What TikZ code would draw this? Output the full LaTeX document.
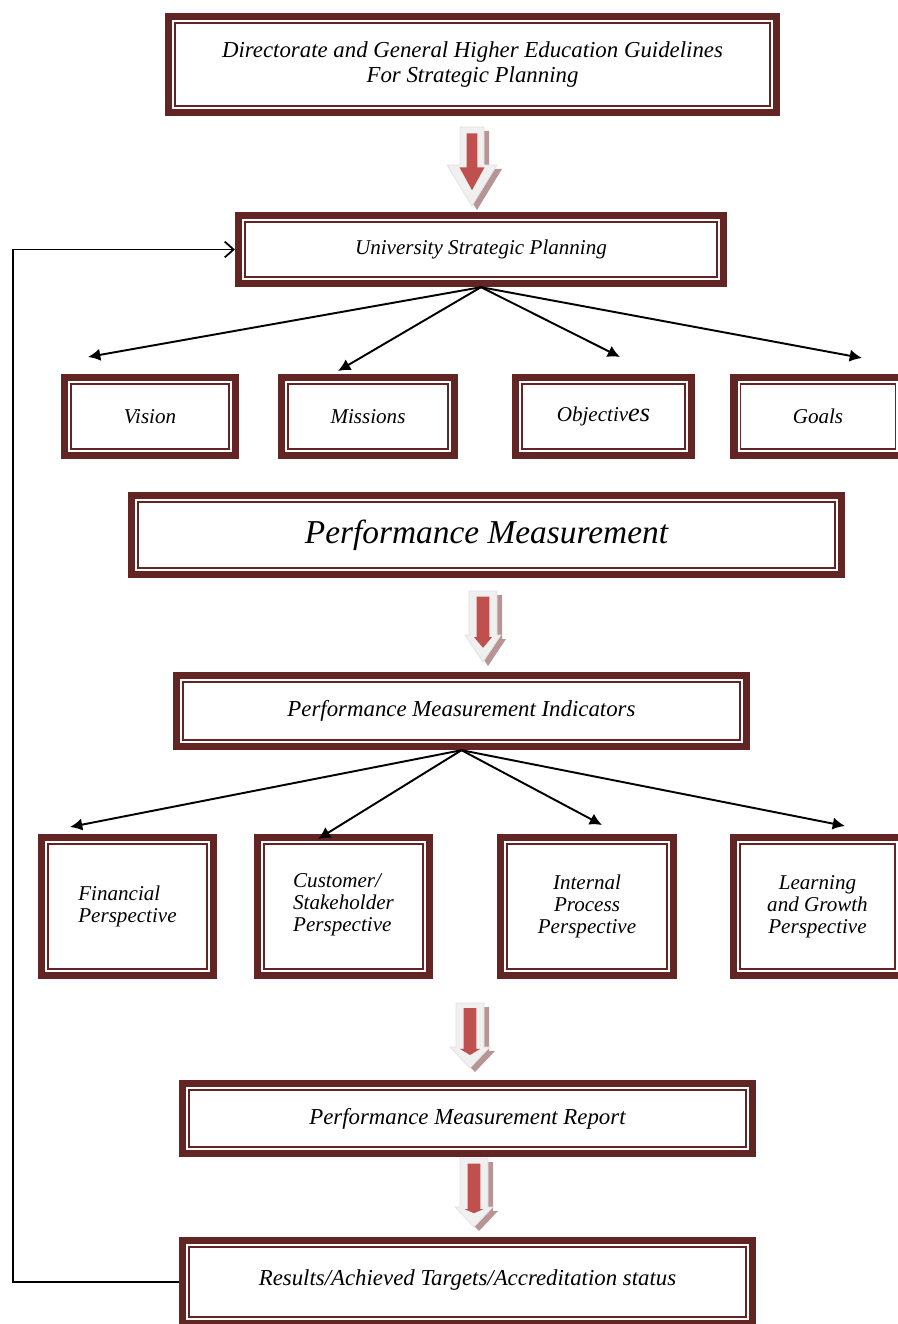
\documentclass[tikz,border=0pt]{standalone}
\usepackage{fontspec}
\setmainfont{Liberation Serif}
\usetikzlibrary{calc, positioning, arrows.meta}
\definecolor{boxred}{HTML}{632523}
\definecolor{arrred}{HTML}{C0504D}
\definecolor{arrshade}{HTML}{B89494}
\definecolor{arrlight}{HTML}{F0F0F0}
\tikzset{
  dbox/.style={draw=boxred, line width=4.2pt, fill=white, align=center, inner sep=2pt,
    font=\itshape\fontsize{12}{12.5}\selectfont,
    path picture={\draw[boxred, line width=0.9pt]
      ([shift={(3.7pt,3.7pt)}]path picture bounding box.south west) rectangle
      ([shift={(-3.7pt,-3.7pt)}]path picture bounding box.north east);}},
  wide/.style={font=\itshape\fontsize{13}{14}\selectfont},
  link/.style={-{Latex[length=7pt,width=7pt]}, line width=1.1pt},
  fback/.style={-{Straight Barb[length=5pt,width=9pt]}, line width=1pt}
}
% block arrow: centre x, top, tip, head half width, shaft half width, head start
\newcommand{\fatdown}[6]{%
  \pgfmathsetmacro\fh{#3-#2}
  \pgfmathsetmacro\rt{#2+0.08*\fh}
  \pgfmathsetmacro\rh{#6+0.03*\fh}
  \pgfmathsetmacro\rb{#3-0.2*\fh}
  \pgfmathsetmacro\rs{0.45*#5}
  \pgfmathsetmacro\rw{0.5*#4}
  \fill[arrshade] (#1-#5+5,#2+4) -- (#1+#5+5,#2+4) -- (#1+#5+5,#6+4) -- (#1+#4+5,#6+4)
    -- (#1+5,#3+4) -- (#1-#4+5,#6+4) -- (#1-#5+5,#6+4) -- cycle;
  \filldraw[fill=arrlight, draw=black!12, line width=0.4pt] (#1-#5,#2) -- (#1+#5,#2) -- (#1+#5,#6)
    -- (#1+#4,#6) -- (#1,#3) -- (#1-#4,#6) -- (#1-#5,#6) -- cycle;
  \fill[arrred] (#1-\rs,\rt) -- (#1+\rs,\rt) -- (#1+\rs,\rh) -- (#1+\rw,\rh)
    -- (#1,\rb) -- (#1-\rw,\rh) -- (#1-\rs,\rh) -- cycle;
}

\begin{document}
\begin{tikzpicture}[x=0.02cm, y=-0.02cm]
\useasboundingbox (0,0) rectangle (897,1324);

% planning part
\node[dbox, minimum width=12.16cm, minimum height=1.92cm, font=\itshape\fontsize{13}{14.2}\selectfont] (guide) at (472.5,64.5)
  {Directorate and General Higher Education Guidelines\\For Strategic Planning};
\node[dbox, minimum width=9.7cm, minimum height=1.36cm] (usp) at (481,249.5) {University Strategic Planning};
\node[dbox, minimum width=3.42cm, minimum height=1.56cm] (vision) at (150,416.5) {Vision};
\node[dbox, minimum width=3.46cm, minimum height=1.56cm] (missions) at (368,416.5) {Missions};
\node[dbox, minimum width=3.52cm, minimum height=1.56cm] (objectives) at (603.5,416.5)
  {Objectiv{\fontsize{15}{15}\selectfont es}};
\node[dbox, minimum width=3.36cm, minimum height=1.56cm] (goals) at (818,416.5) {Goals};

\fatdown{472}{127}{206}{25}{12}{165}

\foreach \n/\p in {1/{88,357}, 2/{338,371}, 3/{620,357}, 4/{862,358}}{
  \coordinate (v\n) at (\p);
  \draw[link] (usp.south) -- (v\n);
}

% measurement part
\node[dbox, minimum width=14.2cm, minimum height=1.58cm, font=\itshape\fontsize{19}{21}\selectfont] (pm) at (486.5,535)
  {Performance Measurement};
\fatdown{483}{591}{662}{18}{14}{635}
\node[dbox, wide, minimum width=11.4cm, minimum height=1.42cm] (pmi) at (461.5,711) {Performance Measurement Indicators};

\node[dbox, minimum width=3.44cm, minimum height=2.76cm, align=left] (financial) at (127.5,906.5) {Financial\\Perspective};
\node[dbox, minimum width=3.44cm, minimum height=2.76cm, align=left, text depth=5pt] (customer) at (343.5,906.5) {Customer/\\Stakeholder\\Perspective};
\node[dbox, minimum width=3.46cm, minimum height=2.76cm] (internal) at (587,906.5) {Internal\\Process\\Perspective};
\node[dbox, minimum width=3.36cm, minimum height=2.76cm] (learning) at (817.5,906.5) {Learning\\and Growth\\Perspective};

\foreach \n/\p in {1/{70,827}, 2/{318,839}, 3/{602,825}, 4/{845,826}}{
  \coordinate (p\n) at (\p);
  \draw[link] (pmi.south) -- (p\n);
}

% report part
\fatdown{470}{1003}{1068}{20}{14}{1047}
\node[dbox, wide, minimum width=11.4cm, minimum height=1.40cm] (pmr) at (467.5,1118.5) {Performance Measurement Report};
\fatdown{474}{1158}{1227}{19}{14}{1207}
\node[dbox, wide, minimum width=11.4cm, minimum height=1.66cm, text depth=5pt] (results) at (467.5,1282)
  {Results/Achieved Targets/Accreditation status};

% feedback loop
\coordinate (loopx) at (13,0);
\draw[fback] (results.west) -- (results.west -| loopx) |- (usp.west);
\end{tikzpicture}
\end{document}
